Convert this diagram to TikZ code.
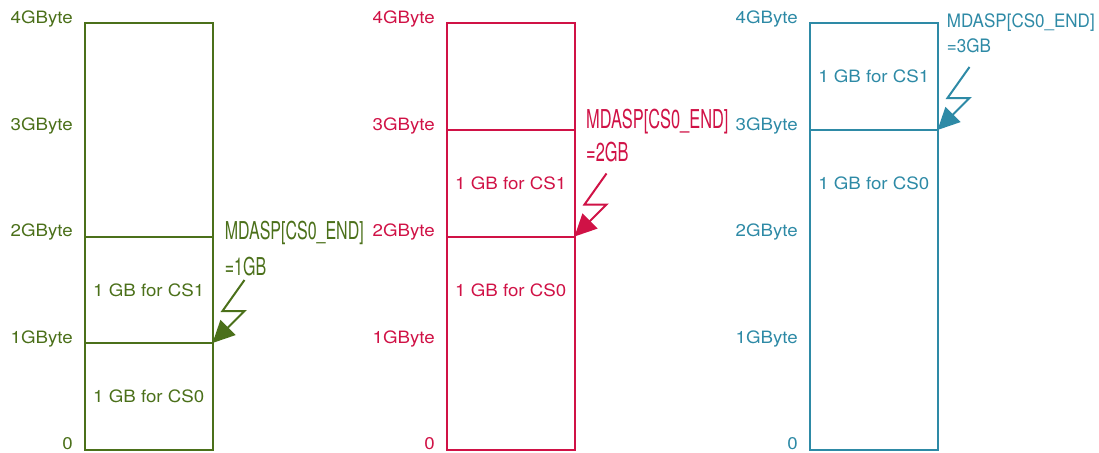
\documentclass[tikz,border=0pt]{standalone}
\usepackage{fontspec}
\setmainfont{TeX Gyre Heros}[FakeStretch=1.1]
\newfontfamily\tagfont{TeX Gyre Heros}
\usetikzlibrary{arrows.meta}
\definecolor{dgreen}{RGB}{75,112,26}
\definecolor{dred}{RGB}{208,18,70}
\definecolor{dblue}{RGB}{46,138,166}
\newcommand{\tagtxt}[3]{\scalebox{#1}[1]{\tagfont\fontsize{#2}{#2}\selectfont #3}}

\begin{document}
\begin{tikzpicture}[x=1pt, y=-1pt, every node/.style={font=\fontsize{17}{20}\selectfont}, >={Triangle[length=22pt, width=21pt]}, lvl/.style={anchor=base east, inner sep=0pt}, part/.style={inner sep=0pt}, tag/.style={anchor=base west, inner sep=0pt}, bolt/.style={line width=2pt, ->, line join=miter}]
	\useasboundingbox (0,0) rectangle (1099,452);
	% the three 4GB columns with their level marks
	\foreach \c/\x/\col in {G/85/dgreen, R/447/dred, B/810/dblue} {
		\draw[\col, line width=2pt] (\x,23.5) rectangle (\x+127.5,449.5);
		\foreach \k/\t in {0/0, 1/1GByte, 2/2GByte, 3/3GByte, 4/4GByte}
			\node[lvl, text=\col] (\c\k) at (\x-12,449.5-106.5*\k) {\t};
	}
	\foreach \x/\y/\col in {85/343/dgreen, 85/236.5/dgreen, 447/236.5/dred, 447/130/dred, 810/130/dblue}
		\draw[\col, line width=2pt] (\x,\y) -- (\x+127.5,\y);
	\node[part, text=dgreen] (Gcs1) at (148.75,290) {1 GB for CS1};
	\node[part, text=dgreen] (Gcs0) at (148.75,396.25) {1 GB for CS0};
	\node[part, text=dred] (Rcs1) at (510.75,183.25) {1 GB for CS1};
	\node[part, text=dred] (Rcs0) at (510.75,290) {1 GB for CS0};
	\node[part, text=dblue] (Bcs1) at (873.75,76.75) {1 GB for CS1};
	\node[part, text=dblue] (Bcs0) at (873.75,183.25) {1 GB for CS0};
	% MDASP[CS0_END] markers
	\node[tag, text=dgreen] (Gtag) at (224.7,239.3) {\tagtxt{0.65}{24.6}{MDASP[CS0\_END]}};
	\node[tag, text=dgreen] (Gval) at (224.7,275) {\tagtxt{0.65}{24.6}{=1GB}};
	\node[tag, text=dred] (Rtag) at (586,128.3) {\tagtxt{0.63}{26}{MDASP[CS0\_END]}};
	\node[tag, text=dred] (Rval) at (586,161.7) {\tagtxt{0.63}{26}{=2GB}};
	\node[tag, text=dblue] (Btag) at (946.7,27.7) {\tagtxt{0.92}{18.5}{MDASP[CS0\_END]}};
	\node[tag, text=dblue] (Bval) at (946.7,52.3) {\tagtxt{0.92}{18.5}{=3GB}};
	\coordinate (Gs) at (244.5,280);  \coordinate (Gt) at (212.5,343);
	\coordinate (Rs) at (606.5,173.5); \coordinate (Rt) at (574.5,236.5);
	\coordinate (Bs) at (969.5,67);   \coordinate (Bt) at (937.5,130);
	\foreach \c/\col in {G/dgreen, R/dred, B/dblue}
		\draw[bolt, \col] (\c s) -- ++(-22,31) -- ++(22,0) -- (\c t);
\end{tikzpicture}
\end{document}
